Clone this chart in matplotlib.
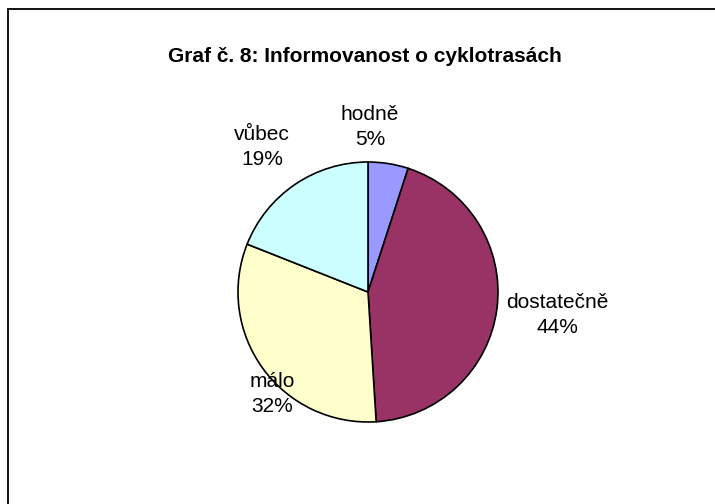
import matplotlib
matplotlib.use('Agg')
import matplotlib.pyplot as plt
from matplotlib.patches import Rectangle

# data
categories = ['hodně', 'dostatečně', 'málo', 'vůbec']
shares = [5, 44, 32, 19]
colors = ['#9999FF', '#993366', '#FFFFCC', '#CCFFFF']
title = 'Graf č. 8: Informovanost o cyklotrasách'

plt.rcParams['font.family'] = ['Liberation Sans', 'DejaVu Sans']

W, H = 715, 504
fig = plt.figure(figsize=(W / 100, H / 100), dpi=100)


def px(x, y):
    """pixel (top-left origin) -> figure fraction"""
    return x / W, 1 - y / H


# outer chart frame (only top/left edges visible in the crop)
frame = Rectangle((8 / W, -0.5), 2.0, 1 - 9 / H + 0.5, transform=fig.transFigure,
                  fill=False, edgecolor='black', linewidth=1.3, clip_on=False)
fig.patches.append(frame)

# pie axes: centre (368, 292) px, radius 130 px
cx, cy, r = 368, 292, 130
ax = fig.add_axes([(cx - r) / W, (H - cy - r) / H, 2 * r / W, 2 * r / H])
ax.pie(shares, colors=colors, startangle=90, counterclock=False,
       wedgeprops=dict(edgecolor='black', linewidth=1.2))
ax.set_xlim(-1, 1)
ax.set_ylim(-1, 1)
ax.set_aspect('equal')
ax.axis('off')

fig.text(*px(365, 57), title, ha='center', va='center',
         fontsize=15, fontweight='bold')

# label positions (pixel centres of the two-line labels)
label_pos = [(370, 127), (557, 315), (272, 394), (262, 147)]
for name, val, (x, y) in zip(categories, shares, label_pos):
    fig.text(*px(x, y), f'{name}\n{val}%', ha='center', va='center',
             fontsize=15, linespacing=1.45)

plt.savefig('out.png', dpi=100)
